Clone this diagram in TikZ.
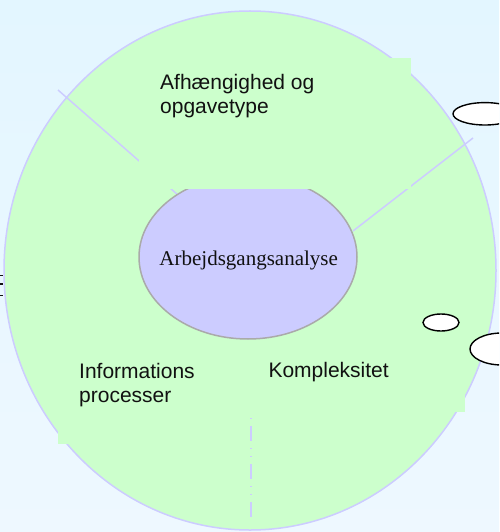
\documentclass[tikz,border=0pt]{standalone}
\usepackage{fontspec}
\setmainfont{Liberation Serif}
\newfontfamily\arialfont{Liberation Sans}
\definecolor{bgtop}{RGB}{227,246,255}
\definecolor{bgbot}{RGB}{238,248,255}
\definecolor{ringgreen}{RGB}{204,255,204}
\definecolor{lav}{RGB}{204,204,255}
\definecolor{coregray}{RGB}{170,170,170}
\definecolor{inktext}{RGB}{17,17,17}
\tikzset{
  spoke/.style={draw=lav, line width=1.5pt},
  greenbox/.style={fill=ringgreen},
  sanslabel/.style={inner sep=0pt, anchor=base west, text=inktext, font=\arialfont\fontsize{21}{22}\selectfont},
  corelabel/.style={inner sep=0pt, anchor=base, text=inktext, font=\fontsize{21}{22}\selectfont},
  bubble/.style={draw=black, fill=white, line width=1.4pt},
  dashdot2/.style={draw=lav, line width=1.8pt, dash pattern=on 1pt off 7pt on 15pt off 7pt on 1pt off 7pt}
}
\begin{document}
\begin{tikzpicture}[x=1pt,y=-1pt]
\useasboundingbox (0,0) rectangle (499,532);
\clip (0,0) rectangle (499,532);
% background
\shade[top color=bgtop, bottom color=bgbot] (0,0) rectangle (499,532);
% big ring
\coordinate (ringc) at (250,270.5);
\filldraw[fill=ringgreen, draw=lav, line width=1.5pt] (ringc) ellipse [x radius=246, y radius=259.5];
% spokes
\coordinate (s1out) at (58,90);
\coordinate (s1in) at (178,195);
\coordinate (s2out) at (473,138);
\coordinate (s2in) at (353,231);
\draw[spoke] (s1out) -- (s1in);
\draw[spoke] (s2out) -- (s2in);
% core ellipse
\coordinate (core) at (248,257);
\filldraw[fill=lav, draw=coregray, line width=1.5pt] (core) ellipse [x radius=109, y radius=82];
% text boxes (green)
\fill[greenbox] (139,58) rectangle (410.5,189);
\fill[greenbox] (58,355) rectangle (230,444);
\fill[greenbox] (262,355) rectangle (465,412);
% labels
\node[corelabel] (corelabel) at (248.7,265) {Arbejdsgangsanalyse};
\node[sanslabel] (afh1) at (160,89.3) {Afhængighed og};
\node[sanslabel] (afh2) at (160,113.7) {opgavetype};
\node[sanslabel] (inf1) at (79,378.3) {Informations};
\node[sanslabel] (inf2) at (79,402.7) {processer};
\node[sanslabel] (komp) at (268.3,377.7) {Kompleksitet};
% small bubbles
\draw[bubble] (485,113.8) ellipse [x radius=32, y radius=11.2];
\draw[bubble] (441,322.5) ellipse [x radius=18, y radius=8.5];
\draw[bubble] (502,349) ellipse [x radius=32, y radius=16];
% dash-dot line
\coordinate (dtop) at (251,418);
\coordinate (dbot) at (251,518);
\draw[dashdot2] (dtop) -- (dbot);
% clipped glyph fragments at left edge
\draw[inktext, line width=1.3pt] (0,275.5) -- (2.5,275.5);
\draw[inktext, line width=1.3pt] (0,284) -- (2.5,284);
\draw[inktext, line width=1.3pt] (0,295.5) -- (3,295.5);
\end{tikzpicture}
\end{document}
